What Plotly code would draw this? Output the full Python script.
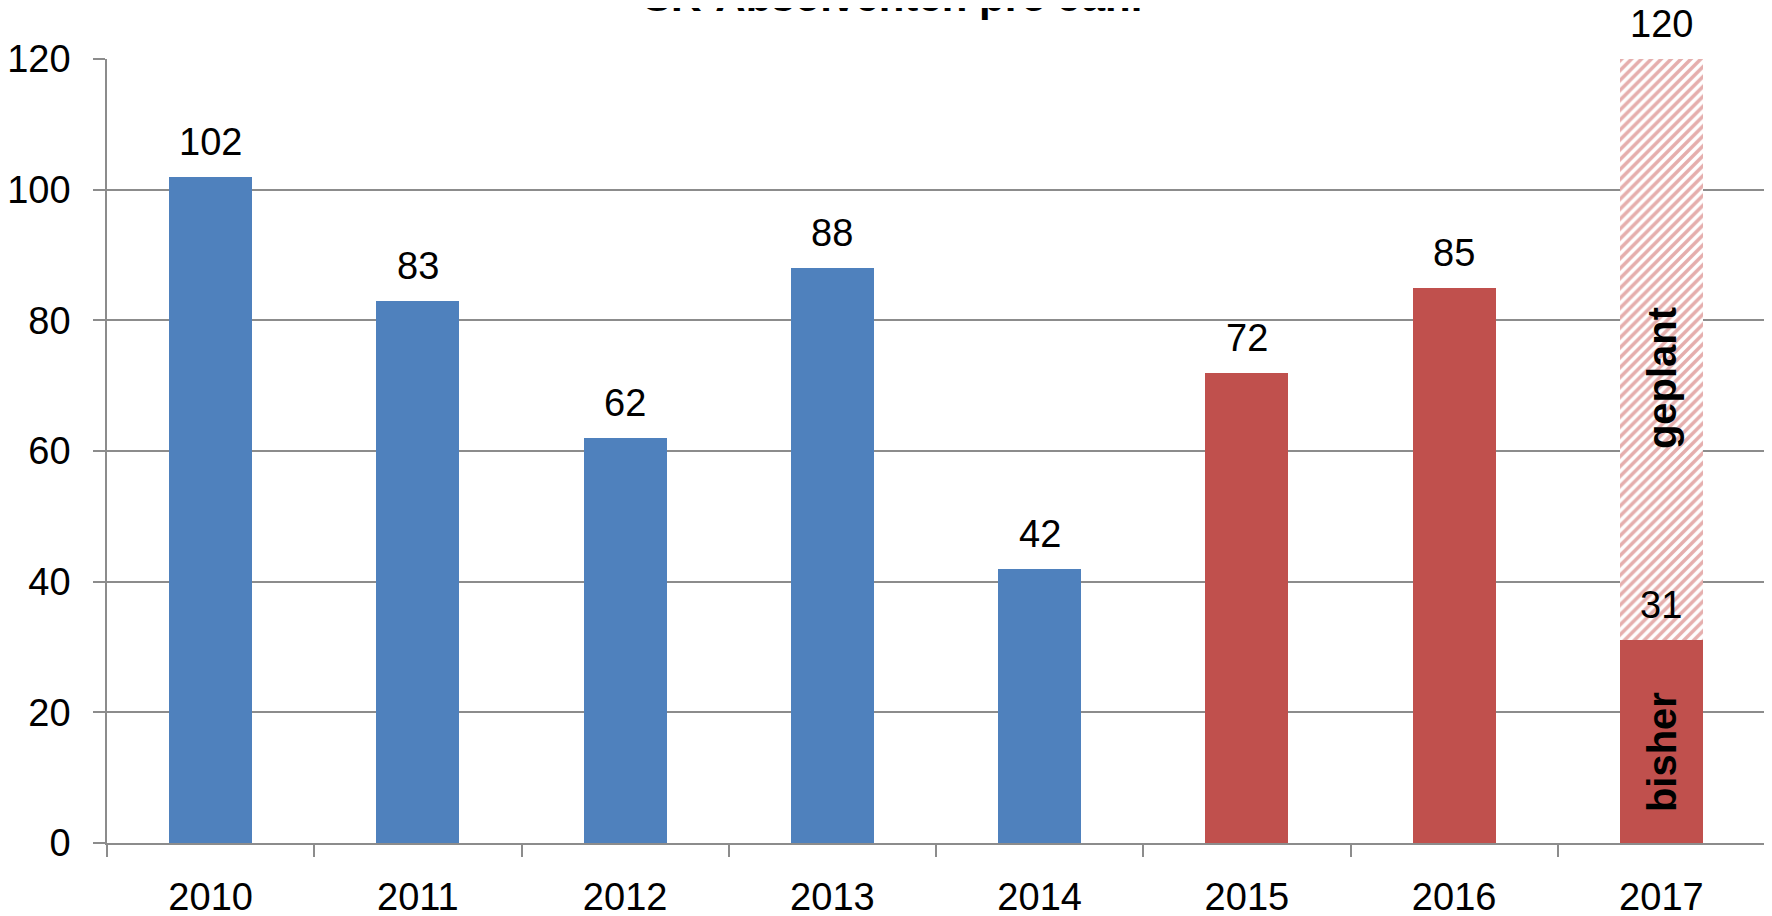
import plotly.graph_objects as go

years = ["2010", "2011", "2012", "2013", "2014", "2015", "2016", "2017"]
absolventen = [102, 83, 62, 88, 42, 72, 85, 31]
bar_colors = ["#4F81BD"] * 5 + ["#C0504D"] * 3
planned_year = ["2017"]
planned_total = [120]
label_done = "bisher"
label_planned = "geplant"
title_text = "SK-Absolventen pro Jahr"
y_ticks = [0, 20, 40, 60, 80, 100, 120]

FONT = "Liberation Sans, Arial, sans-serif"
GRID = "#8C8C8C"
FS = 38

fig = go.Figure()
fig.add_trace(go.Bar(
    x=years, y=absolventen, width=0.4,
    marker=dict(color=bar_colors, line=dict(width=0)),
    hoverinfo="skip", showlegend=False,
))
planned_rest = [t - absolventen[years.index(y)] for y, t in zip(planned_year, planned_total)]
fig.add_trace(go.Bar(
    x=planned_year, y=planned_rest, width=0.4,
    marker=dict(color="white", line=dict(width=0),
                pattern=dict(shape="/", fgcolor="#CC5E5B", bgcolor="white",
                             size=7, solidity=0.5)),
    hoverinfo="skip", showlegend=False,
))

annotations = []
for x, v in zip(years, absolventen):
    annotations.append(dict(x=years.index(x), y=v, text=str(v), showarrow=False,
                            yanchor="bottom", yshift=12,
                            font=dict(family=FONT, size=FS, color="black")))
for x, v in zip(planned_year, planned_total):
    idx = years.index(x)
    done = absolventen[idx]
    annotations.append(dict(x=idx, y=v, text=str(v), showarrow=False,
                            yanchor="bottom", yshift=12,
                            font=dict(family=FONT, size=FS, color="black")))
    annotations.append(dict(x=idx, y=done / 2, text=label_done, showarrow=False,
                            textangle=-90, yanchor="middle", yshift=-10,
                            font=dict(family=FONT, size=40, color="black", weight="bold")))
    annotations.append(dict(x=idx, y=(done + v) / 2, text=label_planned, showarrow=False,
                            textangle=-90, yanchor="middle", yshift=-28,
                            font=dict(family=FONT, size=40, color="black", weight="bold")))
annotations.append(dict(x=0.475, xref="paper", y=1.08, yref="paper", text=title_text,
                        showarrow=False, yanchor="middle", xanchor="center",
                        font=dict(family=FONT, size=42, color="black", weight="bold")))

fig.update_layout(
    width=1772, height=916,
    margin=dict(l=99, r=15, t=51, b=81),
    barmode="stack",
    paper_bgcolor="white", plot_bgcolor="white",
    font=dict(family=FONT, size=FS, color="black"),
    annotations=annotations,
    xaxis=dict(
        type="category", range=[-0.5, 7.5], automargin=False,
        showline=True, linecolor=GRID, linewidth=1.5,
        ticks="outside", tickson="boundaries", ticklen=12, tickcolor=GRID, tickwidth=1.5,
        showgrid=False, ticklabelstandoff=20,
        tickfont=dict(family=FONT, size=FS, color="black"),
    ),
    yaxis=dict(
        range=[0, 120], tickvals=y_ticks, automargin=False,
        showline=True, linecolor=GRID, linewidth=1.5,
        ticks="outside", ticklen=12, tickcolor=GRID, tickwidth=1.5,
        showgrid=True, gridcolor=GRID, gridwidth=1.5, zeroline=False,
        ticklabelstandoff=15,
        tickfont=dict(family=FONT, size=FS, color="black"),
    ),
)

fig.write_html("out.html")
